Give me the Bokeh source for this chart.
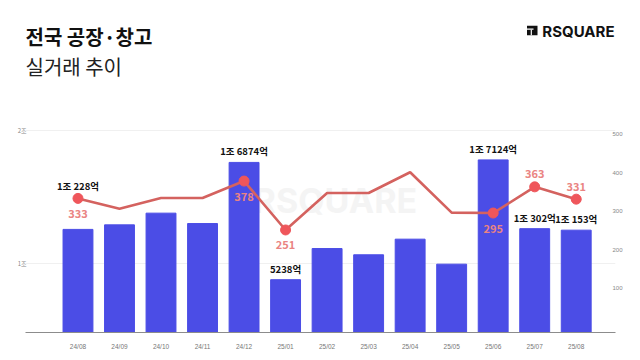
from bokeh.plotting import figure
from bokeh.layouts import column
from bokeh.models import Range1d, LinearAxis, FixedTicker, Label, ColumnDataSource, BoxAnnotation
from bokeh.core.properties import value
from bokeh.embed import file_html
from bokeh.resources import INLINE

# ---- data ----
months = ["24/08", "24/09", "24/10", "24/11", "24/12", "25/01", "25/02",
          "25/03", "25/04", "25/05", "25/06", "25/07", "25/08"]
amount_eok = [10228, 10680, 11840, 10810, 16874, 5238, 8330,
              7710, 9260, 6780, 17124, 10302, 10153]
deal_count = [333, 306, 334, 334, 378, 251, 347, 347, 401, 296, 295, 363, 331]
labeled_idx = [0, 4, 5, 10, 11, 12]
count_label_above = [11, 12]
left_ticks = [6845, 20000]
left_tick_labels = ["1조", "2조"]
right_ticks = [100, 200, 300, 400, 500]

TITLE = "전국 공장·창고"
SUBTITLE = "실거래 추이"
BRAND = "RSQUARE"

KR = "Noto Sans CJK KR"
BAR = "#4b4de6"
LINE = "#d4625f"
DOT = "#ef565b"
NUMC = "#ea8482"


def fmt_amount(v):
    jo, eok = divmod(v, 10000)
    return f"{jo}조 {eok}억" if jo else f"{eok}억"


# ---- header (title, subtitle, brand) ----
HEAD_H = 115
FL, FR = 25, 615  # frame edges shared with the chart below
h = figure(width=640, height=HEAD_H, output_backend="svg", toolbar_location=None,
           x_range=Range1d(FL, FR), y_range=Range1d(HEAD_H, 0),
           min_border_left=FL, min_border_right=640 - FR,
           min_border_top=0, min_border_bottom=0)
h.axis.visible = False
h.grid.visible = False
h.outline_line_color = None
h.background_fill_color = "white"
h.border_fill_color = "white"
h.add_layout(Label(x=25, y=36, text=TITLE, text_baseline="middle", text_font=KR,
                   text_font_style="bold", text_font_size="20px", text_color="#111111"))
h.add_layout(Label(x=25, y=66, text=SUBTITLE, text_baseline="middle", text_font=KR,
                   text_font_size="20px", text_color="#222222"))
h.add_layout(Label(x=614, y=30.5, text=BRAND, text_align="right", text_baseline="middle",
                   text_font="Inter", text_font_style="bold", text_font_size="15px",
                   text_color="#111111"))
h.add_layout(BoxAnnotation(left=526.5, right=537, top=25.3, bottom=34.7,
                           fill_color="#111111", fill_alpha=1, line_color=None))
h.add_layout(BoxAnnotation(left=526.5, right=533, top=28, bottom=29.2,
                           fill_color="white", fill_alpha=1, line_color=None))
h.add_layout(BoxAnnotation(left=530.2, right=531.4, top=29.2, bottom=34.7,
                           fill_color="white", fill_alpha=1, line_color=None))

# ---- chart ----
x = list(range(len(months)))

p = figure(width=640, height=360 - HEAD_H, output_backend="svg", toolbar_location=None,
           x_range=Range1d(-1.264, 12.946), y_range=Range1d(0, 21528),
           min_border_left=FL, min_border_right=640 - FR, min_border_top=0,
           min_border_bottom=28)
p.extra_y_ranges = {"cnt": Range1d(-15.3, 548.3)}
p.outline_line_color = None
p.background_fill_color = "white"
p.border_fill_color = "white"

p.xaxis.ticker = FixedTicker(ticks=x)
p.xaxis.major_label_overrides = {i: m for i, m in enumerate(months)}
p.xaxis.major_tick_line_color = None
p.xaxis.minor_tick_line_color = None
p.xaxis.axis_line_color = "#8c8c8c"
p.xaxis.axis_line_width = 1.2
p.xaxis.major_label_text_font_size = "6.5px"
p.xaxis.major_label_text_color = "#777777"
p.xaxis.major_label_standoff = 4
p.xgrid.grid_line_color = None

p.yaxis.ticker = FixedTicker(ticks=left_ticks)
p.yaxis.major_label_overrides = dict(zip(left_ticks, left_tick_labels))
p.yaxis.axis_line_color = None
p.yaxis.major_tick_line_color = None
p.yaxis.minor_tick_line_color = None
p.yaxis.major_label_standoff = -7
p.yaxis.major_label_text_font_size = "6px"
p.yaxis.major_label_text_color = "#888888"
p.yaxis.major_label_text_font = KR
p.ygrid.ticker = FixedTicker(ticks=left_ticks)
p.ygrid.grid_line_color = "#f0f0f0"

ra = LinearAxis(y_range_name="cnt", ticker=FixedTicker(ticks=right_ticks))
ra.axis_line_color = None
ra.major_tick_line_color = None
ra.minor_tick_line_color = None
ra.major_label_standoff = -9
ra.major_label_text_font_size = "6px"
ra.major_label_text_color = "#888888"
p.add_layout(ra, "right")

# watermark
p.add_layout(Label(x=6.2, y=13095, text=BRAND, text_align="center", text_baseline="middle",
                   text_font="Inter", text_font_style="bold", text_font_size="34px",
                   text_color="#f4f4f4", level="underlay"))

# bars
p.vbar(x=x, top=amount_eok, width=0.72, color=BAR)

# line
p.line(x=x, y=deal_count, y_range_name="cnt", line_color=LINE, line_width=2.6)
p.scatter(x=[x[i] for i in labeled_idx], y=[deal_count[i] for i in labeled_idx],
          y_range_name="cnt", size=10, fill_color=DOT, line_color=DOT)

# count labels
cnt_src = ColumnDataSource(dict(
    x=[x[i] for i in labeled_idx],
    y=[deal_count[i] for i in labeled_idx],
    t=[str(deal_count[i]) for i in labeled_idx],
    off=[-13 if i in count_label_above else 15 for i in labeled_idx]))
p.text(x="x", y="y", text="t", y_offset="off", source=cnt_src, y_range_name="cnt",
       text_align="center", text_baseline="middle", text_font=value(KR),
       text_font_style="bold", text_font_size="11px", text_color=NUMC)

# amount labels
bar_idx = [i for i in labeled_idx if i != 0]
amt_src = ColumnDataSource(dict(
    x=[x[i] for i in bar_idx],
    y=[amount_eok[i] for i in bar_idx],
    t=[fmt_amount(amount_eok[i]) for i in bar_idx]))
p.text(x="x", y="y", text="t", y_offset=-11, source=amt_src,
       text_align="center", text_baseline="middle", text_font=value(KR),
       text_font_style="bold", text_font_size="9.5px", text_color="#111111")
p.text(x=[x[0]], y=[deal_count[0]], text=[fmt_amount(amount_eok[0])], y_offset=-12,
       y_range_name="cnt", text_align="center", text_baseline="middle",
       text_font=value(KR), text_font_style="bold", text_font_size="9.5px",
       text_color="#111111")

layout = column(h, p, spacing=0)
open("out.html", "w").write(file_html(layout, INLINE))
